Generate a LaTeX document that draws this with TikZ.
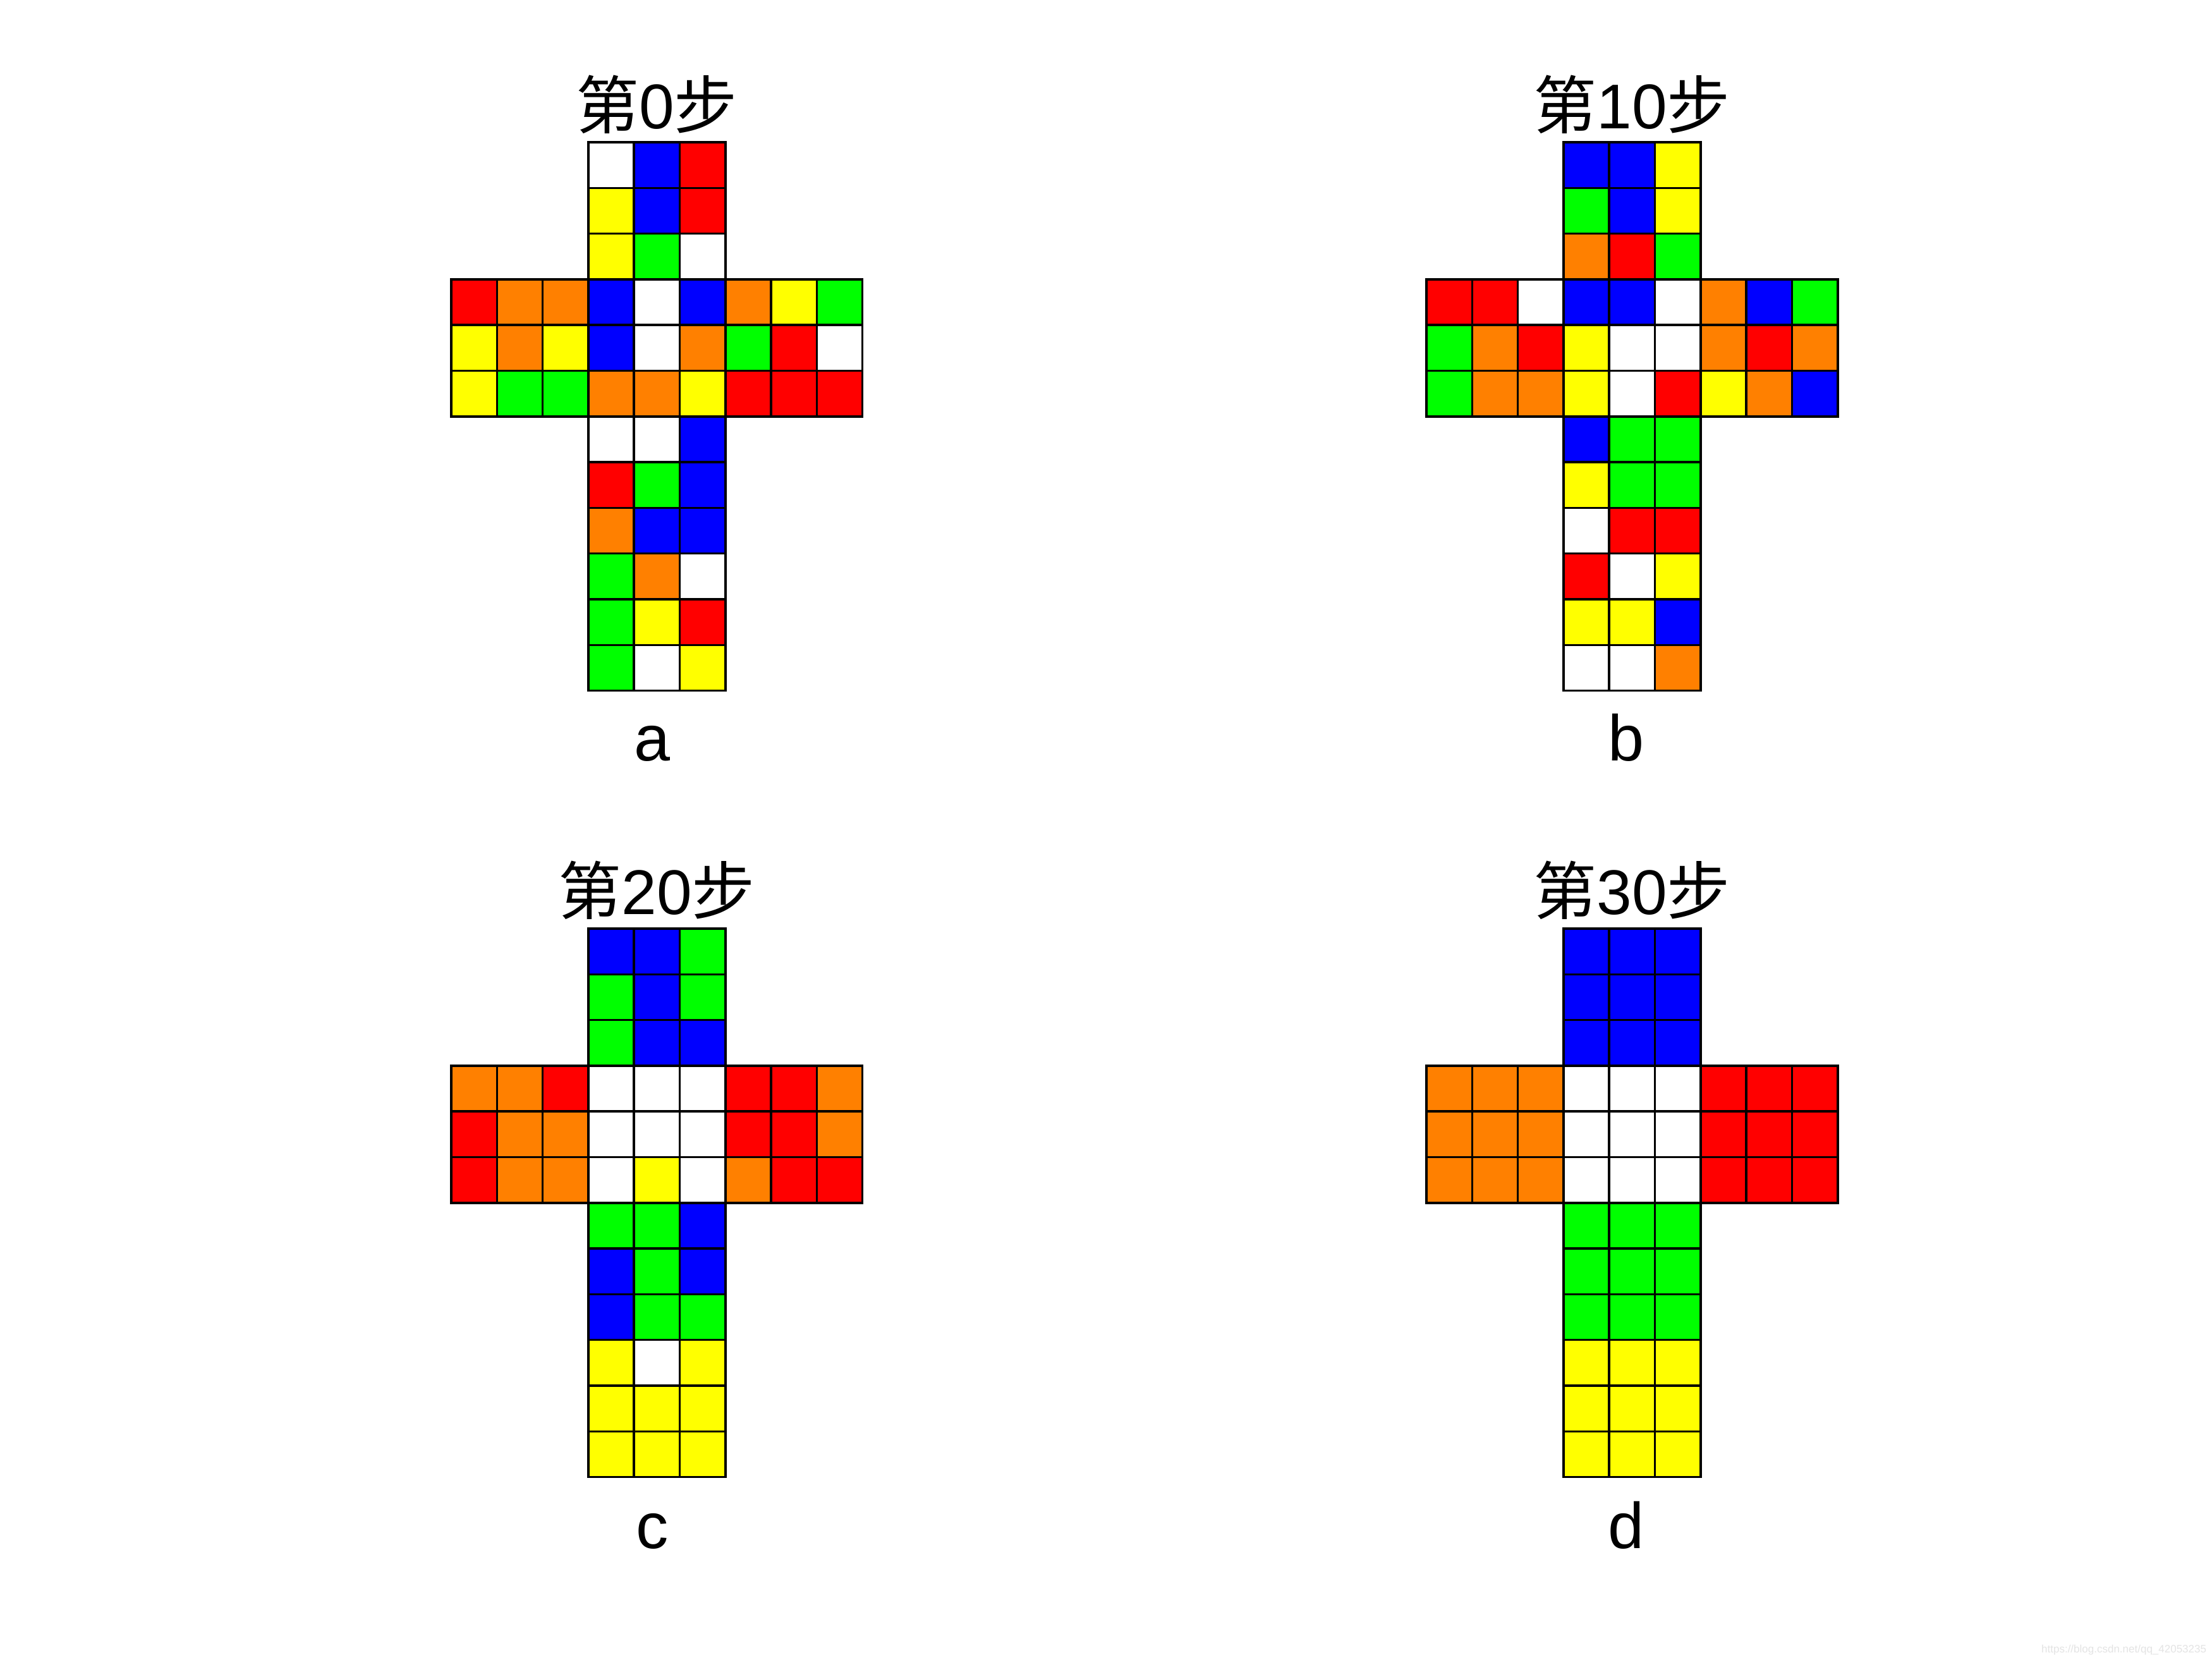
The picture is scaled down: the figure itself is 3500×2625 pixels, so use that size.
\documentclass[tikz,border=0pt]{standalone}
\usepackage{fontspec}
\setmainfont{Liberation Sans}
\newfontfamily\cjk{Noto Sans CJK SC}
\definecolor{cR}{RGB}{255,0,0}
\definecolor{cO}{RGB}{255,128,0}
\definecolor{cY}{RGB}{255,255,0}
\definecolor{cG}{RGB}{0,255,0}
\definecolor{cB}{RGB}{0,0,255}
\definecolor{cW}{RGB}{255,255,255}
\definecolor{wmark}{RGB}{228,228,228}
\tikzset{
  cellbox/.style={draw=black, line width=0.7pt},
  titletext/.style={anchor=base, inner sep=0pt, font=\fontsize{20}{24}\selectfont},
  labeltext/.style={anchor=base, inner sep=0pt, font=\fontsize{20.5}{24}\selectfont},
}
% \cubenet{x0}{y0}{rows}: rows = list of row/start/colours
\newcommand{\cubenet}[3]{%
  \foreach \rowi/\st/\cols [count=\rr from 0] in {#3} {%
    \foreach \cc [count=\kk from 0] in \cols {%
      \path[cellbox, fill=c\cc] ({#1+(\st+\kk)*72.3},{#2+\rr*72.3}) rectangle ++(72.3,72.3);
    }%
  }%
}
\begin{document}
\begin{tikzpicture}[x=0.2pt,y=-0.2pt]
\useasboundingbox (0,0) rectangle (3500,2625);
\fill[white] (0,0) rectangle (3500,2625);

% panel a
\cubenet{714}{225}{
1/3/{W,B,R}, 2/3/{Y,B,R}, 3/3/{Y,G,W},
4/0/{R,O,O,B,W,B,O,Y,G}, 5/0/{Y,O,Y,B,W,O,G,R,W}, 6/0/{Y,G,G,O,O,Y,R,R,R},
7/3/{W,W,B}, 8/3/{R,G,B}, 9/3/{O,B,B}, 10/3/{G,O,W}, 11/3/{G,Y,R}, 12/3/{G,W,Y}}
% panel b
\cubenet{2257}{225}{
1/3/{B,B,Y}, 2/3/{G,B,Y}, 3/3/{O,R,G},
4/0/{R,R,W,B,B,W,O,B,G}, 5/0/{G,O,R,Y,W,W,O,R,O}, 6/0/{G,O,O,Y,W,R,Y,O,B},
7/3/{B,G,G}, 8/3/{Y,G,G}, 9/3/{W,R,R}, 10/3/{R,W,Y}, 11/3/{Y,Y,B}, 12/3/{W,W,O}}
% panel c
\cubenet{714}{1469}{
1/3/{B,B,G}, 2/3/{G,B,G}, 3/3/{G,B,B},
4/0/{O,O,R,W,W,W,R,R,O}, 5/0/{R,O,O,W,W,W,R,R,O}, 6/0/{R,O,O,W,Y,W,O,R,R},
7/3/{G,G,B}, 8/3/{B,G,B}, 9/3/{B,G,G}, 10/3/{Y,W,Y}, 11/3/{Y,Y,Y}, 12/3/{Y,Y,Y}}
% panel d
\cubenet{2257}{1469}{
1/3/{B,B,B}, 2/3/{B,B,B}, 3/3/{B,B,B},
4/0/{O,O,O,W,W,W,R,R,R}, 5/0/{O,O,O,W,W,W,R,R,R}, 6/0/{O,O,O,W,W,W,R,R,R},
7/3/{G,G,G}, 8/3/{G,G,G}, 9/3/{G,G,G}, 10/3/{Y,Y,Y}, 11/3/{Y,Y,Y}, 12/3/{Y,Y,Y}}

\node[titletext] (ta) at (1039,204) {{\cjk 第}0{\cjk 步}};
\node[titletext] (tb) at (2582,204) {{\cjk 第}10{\cjk 步}};
\node[titletext] (tc) at (1039,1446) {{\cjk 第}20{\cjk 步}};
\node[titletext] (td) at (2582,1446) {{\cjk 第}30{\cjk 步}};

\node[labeltext] (la) at (1032,1203) {a};
\node[labeltext] (lb) at (2573,1203) {b};
\node[labeltext] (lc) at (1032,2449) {c};
\node[labeltext] (ld) at (2573,2449) {d};

\node[anchor=base east, inner sep=0pt, text=wmark, font=\fontsize{3.4}{4}\selectfont] (wm) at (3492,2614) {https://blog.csdn.net/qq\_42053235};
\end{tikzpicture}
\end{document}
